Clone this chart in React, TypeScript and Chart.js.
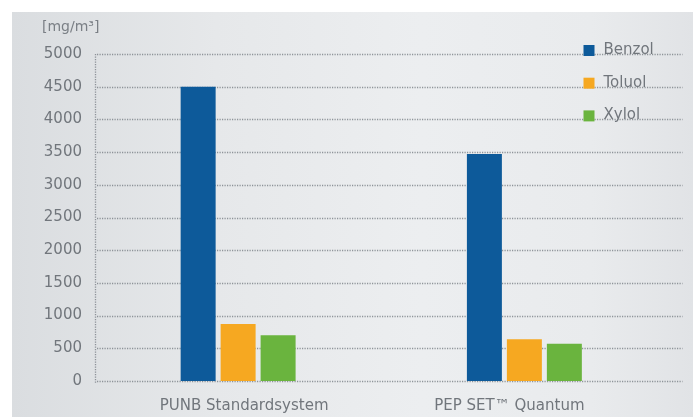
import React, { useEffect, useRef } from "react";
import { Chart, registerables } from "chart.js";

Chart.register(...registerables);

const categories = ["PUNB Standardsystem", "PEP SET\u2122 Quantum"];
const seriesNames = ["Benzol", "Toluol", "Xylol"];
const benzol = [4500, 3470];
const toluol = [870, 640];
const xylol = [700, 570];
const seriesColors = ["#0d5a9a", "#f6a821", "#6ab43e"];
const yTitle = "[mg/m\u00b3]";
const yMin = 0;
const yMax = 5000;
const yStep = 500;
const labelNudge = [6, -15];

const FONT = "'DejaVu Sans', sans-serif";
const TEXT = "#71767c";

const decorPlugin = {
  id: "decor",
  beforeDatasetsDraw(chart: any) {
    const { ctx, chartArea, scales } = chart;
    const y = scales.y;
    ctx.save();
    ctx.strokeStyle = "rgba(120,126,132,0.8)";
    ctx.lineWidth = 1.3;
    ctx.setLineDash([1.2, 1.3]);
    y.ticks.forEach((t: any) => {
      const py = Math.round(y.getPixelForValue(t.value)) + 0.5;
      ctx.beginPath();
      ctx.moveTo(chartArea.left + 2, py);
      ctx.lineTo(chartArea.right + 15, py);
      ctx.stroke();
    });
    ctx.beginPath();
    ctx.moveTo(chartArea.left + 0.5, chartArea.top);
    ctx.lineTo(chartArea.left + 0.5, chartArea.bottom + 2);
    ctx.stroke();
    ctx.restore();
  },
  afterDraw(chart: any) {
    const { ctx, chartArea, scales } = chart;
    const x = scales.x;
    const y = scales.y;
    ctx.save();
    ctx.fillStyle = "#7a7f85";
    ctx.font = `14px ${FONT}`;
    ctx.textAlign = "left";
    ctx.textBaseline = "middle";
    ctx.fillText(yTitle, 30, 15);
    ctx.fillStyle = TEXT;
    ctx.font = `15px ${FONT}`;
    ctx.textAlign = "center";
    categories.forEach((c, i) => {
      const px = x.getPixelForTick(i) + labelNudge[i];
      ctx.fillText(c, px, chartArea.bottom + 25);
    });
    ctx.textAlign = "left";
    seriesNames.forEach((n, i) => {
      const cy = y.getPixelForValue(yMax - yStep * i) - 4;
      const sx = chartArea.right - 84;
      ctx.fillStyle = seriesColors[i];
      ctx.fillRect(sx, cy - 5, 11, 11);
      ctx.fillStyle = TEXT;
      ctx.fillText(n, sx + 20, cy);
    });
    ctx.restore();
  },
};

export default function App() {
  const ref = useRef<HTMLCanvasElement | null>(null);
  useEffect(() => {
    if (!ref.current) return;
    const chart = new Chart(ref.current, {
      type: "bar",
      data: {
        labels: categories,
        datasets: [
          { label: seriesNames[0], data: benzol, backgroundColor: seriesColors[0] },
          { label: seriesNames[1], data: toluol, backgroundColor: seriesColors[1] },
          { label: seriesNames[2], data: xylol, backgroundColor: seriesColors[2] },
        ],
      },
      options: {
        responsive: false,
        animation: false,
        layout: { padding: { left: 0, right: 25.5, top: 42, bottom: 0 } },
        datasets: { bar: { categoryPercentage: 0.419, barPercentage: 0.875 } },
        plugins: { legend: { display: false }, tooltip: { enabled: false }, title: { display: false } },
        scales: {
          x: {
            grid: { display: false },
            border: { display: false },
            ticks: { display: false },
            afterFit: (s: any) => { s.height = 36; },
          },
          y: {
            min: yMin,
            max: yMax,
            grid: { display: false, drawTicks: false },
            border: { display: false },
            ticks: {
              stepSize: yStep,
              padding: 13,
              color: TEXT,
              font: { family: FONT, size: 15 },
              callback: (v: any) => String(v),
            },
            afterFit: (s: any) => { s.width = 83; },
          },
        },
      },
      plugins: [decorPlugin],
    });
    return () => chart.destroy();
  }, []);
  return (
    <div
      style={{
        position: "absolute",
        left: 12,
        top: 12,
        width: 681,
        height: 405,
        background:
          "linear-gradient(90deg, #dadde0 0%, #e6e8ea 30%, #eceef0 60%, #e9ebed 85%, #e1e3e6 100%)",
      }}
    >
      <canvas ref={ref} width={681} height={405} style={{ display: "block" }} />
    </div>
  );
}
